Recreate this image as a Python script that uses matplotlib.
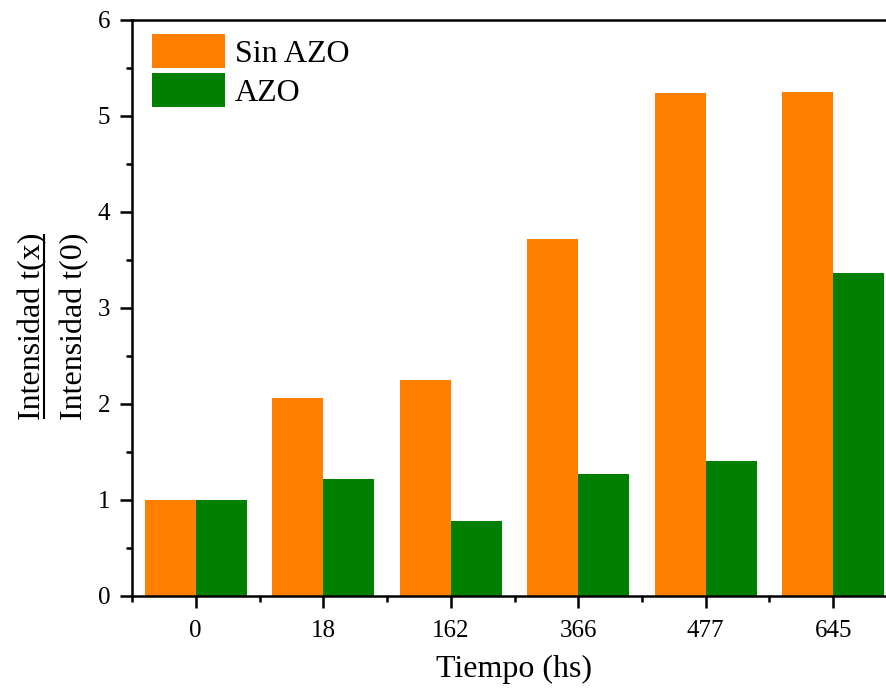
import matplotlib
matplotlib.use("Agg")
import matplotlib.pyplot as plt
from matplotlib.lines import Line2D
from matplotlib.ticker import MultipleLocator
import numpy as np

categories = ["0", "18", "162", "366", "477", "645"]
sin_azo = [1.00, 2.06, 2.25, 3.72, 5.24, 5.25]
azo = [1.00, 1.22, 0.78, 1.27, 1.41, 3.36]
series_labels = ["Sin AZO", "AZO"]
colors = ["#FF7F00", "#007F00"]

plt.rcParams['font.family'] = ['Liberation Serif', 'DejaVu Serif']

fig = plt.figure(figsize=(8.87, 6.93), dpi=100)
ax = fig.add_axes([132/887, 1-596/693, 765/887, 576/693])

x = np.arange(len(categories))
w = 0.4
ax.bar(x - w/2, sin_azo, width=w, color=colors[0], label=series_labels[0], linewidth=0)
ax.bar(x + w/2, azo, width=w, color=colors[1], label=series_labels[1], linewidth=0)

ax.set_xlim(-0.5, len(categories) - 0.5)
ax.set_ylim(0, 6)
ax.set_xticks(x)
ax.set_xticklabels(categories)
ax.xaxis.set_minor_locator(MultipleLocator(1, offset=0.5))
ax.yaxis.set_major_locator(MultipleLocator(1))
ax.yaxis.set_minor_locator(MultipleLocator(0.5))

lw = 1.8
for s in ax.spines.values():
    s.set_linewidth(lw)
ax.tick_params(which='major', direction='out', length=8.5, width=lw, labelsize=18, pad=9)
ax.tick_params(which='minor', direction='out', length=4.5, width=lw)
ax.tick_params(axis='y', which='major', pad=7)

ax.set_xlabel("Tiempo (hs)", fontsize=23, labelpad=9)

# y label as a fraction
fig.text(32.5/887, 1-326/693, "Intensidad t(x)", rotation=90, ha='center', va='center', fontsize=23)
fig.text(74.5/887, 1-326/693, "Intensidad t(0)", rotation=90, ha='center', va='center', fontsize=23)
fig.add_artist(Line2D([44/887, 44/887], [1-235/693, 1-418/693], color='black', linewidth=1.5,
                      transform=fig.transFigure))

ax.legend(loc='upper left', bbox_to_anchor=(20/765, (596-34)/576), borderpad=0, borderaxespad=0,
          handlelength=2.3, handleheight=1.25, labelspacing=0.14, handletextpad=0.3,
          frameon=False, fontsize=23)

fig.savefig("out.png", dpi=100)
